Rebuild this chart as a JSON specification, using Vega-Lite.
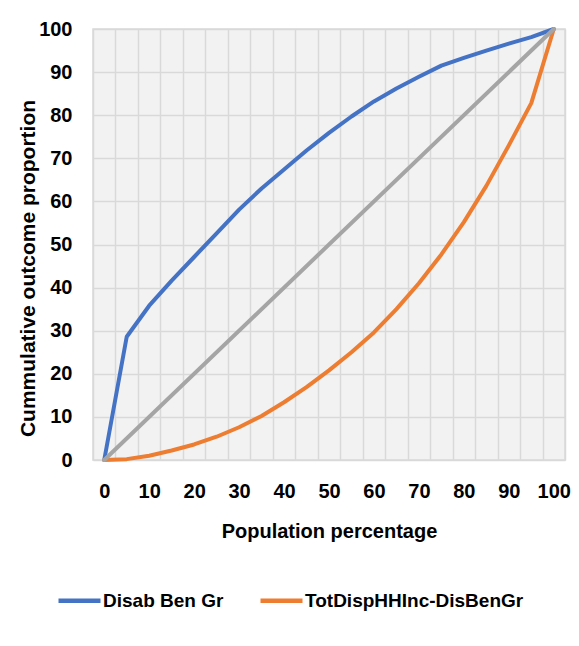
{
  "$schema": "https://vega.github.io/schema/vega-lite/v6.json",
  "autosize": "none",
  "width": 472,
  "height": 431,
  "padding": {"left": 93, "top": 29, "right": 14, "bottom": 186},
  "background": "white",
  "config": {
    "font": "Liberation Sans",
    "view": {"fill": "#f2f2f2", "stroke": "#d9d9d9", "strokeWidth": 1.5}
  },
  "datasets": {
    "curves": [
      {"pop": 0, "value": 0, "series": "Disab Ben Gr"},
      {"pop": 5, "value": 28.6, "series": "Disab Ben Gr"},
      {"pop": 10, "value": 35.8, "series": "Disab Ben Gr"},
      {"pop": 15, "value": 41.6, "series": "Disab Ben Gr"},
      {"pop": 20, "value": 47.1, "series": "Disab Ben Gr"},
      {"pop": 25, "value": 52.6, "series": "Disab Ben Gr"},
      {"pop": 30, "value": 58.1, "series": "Disab Ben Gr"},
      {"pop": 35, "value": 63.0, "series": "Disab Ben Gr"},
      {"pop": 40, "value": 67.4, "series": "Disab Ben Gr"},
      {"pop": 45, "value": 71.8, "series": "Disab Ben Gr"},
      {"pop": 50, "value": 75.9, "series": "Disab Ben Gr"},
      {"pop": 55, "value": 79.7, "series": "Disab Ben Gr"},
      {"pop": 60, "value": 83.2, "series": "Disab Ben Gr"},
      {"pop": 65, "value": 86.2, "series": "Disab Ben Gr"},
      {"pop": 70, "value": 88.9, "series": "Disab Ben Gr"},
      {"pop": 75, "value": 91.5, "series": "Disab Ben Gr"},
      {"pop": 80, "value": 93.3, "series": "Disab Ben Gr"},
      {"pop": 85, "value": 95.0, "series": "Disab Ben Gr"},
      {"pop": 90, "value": 96.6, "series": "Disab Ben Gr"},
      {"pop": 95, "value": 98.1, "series": "Disab Ben Gr"},
      {"pop": 100, "value": 100, "series": "Disab Ben Gr"},
      {"pop": 0, "value": 0, "series": "TotDispHHInc-DisBenGr"},
      {"pop": 5, "value": 0.2, "series": "TotDispHHInc-DisBenGr"},
      {"pop": 10, "value": 1.0, "series": "TotDispHHInc-DisBenGr"},
      {"pop": 15, "value": 2.2, "series": "TotDispHHInc-DisBenGr"},
      {"pop": 20, "value": 3.6, "series": "TotDispHHInc-DisBenGr"},
      {"pop": 25, "value": 5.4, "series": "TotDispHHInc-DisBenGr"},
      {"pop": 30, "value": 7.6, "series": "TotDispHHInc-DisBenGr"},
      {"pop": 35, "value": 10.2, "series": "TotDispHHInc-DisBenGr"},
      {"pop": 40, "value": 13.4, "series": "TotDispHHInc-DisBenGr"},
      {"pop": 45, "value": 16.9, "series": "TotDispHHInc-DisBenGr"},
      {"pop": 50, "value": 20.8, "series": "TotDispHHInc-DisBenGr"},
      {"pop": 55, "value": 25.0, "series": "TotDispHHInc-DisBenGr"},
      {"pop": 60, "value": 29.6, "series": "TotDispHHInc-DisBenGr"},
      {"pop": 65, "value": 35.0, "series": "TotDispHHInc-DisBenGr"},
      {"pop": 70, "value": 41.0, "series": "TotDispHHInc-DisBenGr"},
      {"pop": 75, "value": 47.7, "series": "TotDispHHInc-DisBenGr"},
      {"pop": 80, "value": 55.2, "series": "TotDispHHInc-DisBenGr"},
      {"pop": 85, "value": 63.6, "series": "TotDispHHInc-DisBenGr"},
      {"pop": 90, "value": 73.0, "series": "TotDispHHInc-DisBenGr"},
      {"pop": 95, "value": 82.8, "series": "TotDispHHInc-DisBenGr"},
      {"pop": 100, "value": 100, "series": "TotDispHHInc-DisBenGr"}
    ],
    "equality": [
      {"pop": 0, "value": 0},
      {"pop": 100, "value": 100}
    ]
  },
  "encoding": {
    "x": {
      "field": "pop",
      "type": "quantitative",
      "scale": {"domain": [-2.5, 102.5], "nice": false, "zero": false},
      "axis": {
        "title": "Population percentage",
        "values": [-2.5, 0, 2.5, 5, 7.5, 10, 12.5, 15, 17.5, 20, 22.5, 25, 27.5, 30, 32.5, 35, 37.5, 40, 42.5, 45, 47.5, 50, 52.5, 55, 57.5, 60, 62.5, 65, 67.5, 70, 72.5, 75, 77.5, 80, 82.5, 85, 87.5, 90, 92.5, 95, 97.5, 100, 102.5],
        "labelExpr": "datum.value % 10 === 0 ? datum.label : ''",
        "labelOverlap": false,
        "labelBound": false,
        "labelFlush": false,
        "grid": true,
        "gridColor": "#d9d9d9",
        "gridWidth": 1.5,
        "gridOpacity": {"condition": {"test": "datum.value % 5 !== 0", "value": 1}, "value": 0},
        "ticks": false,
        "domain": false,
        "labelFontSize": 20,
        "labelFontWeight": "bold",
        "labelColor": "#000000",
        "labelPadding": 21,
        "titleFontSize": 20,
        "titleFontWeight": "bold",
        "titleColor": "#000000",
        "titlePadding": 20
      }
    },
    "y": {
      "field": "value",
      "type": "quantitative",
      "scale": {"domain": [0, 100], "nice": false},
      "axis": {
        "title": "Cummulative outcome proportion",
        "values": [0, 10, 20, 30, 40, 50, 60, 70, 80, 90, 100],
        "grid": true,
        "gridColor": "#d9d9d9",
        "gridWidth": 1.5,
        "ticks": false,
        "domain": false,
        "labelFontSize": 20,
        "labelFontWeight": "bold",
        "labelColor": "#000000",
        "labelPadding": 21,
        "titleFontSize": 21,
        "titleFontWeight": "bold",
        "titleColor": "#000000",
        "titleX": -55,
        "titleY": 239
      }
    }
  },
  "layer": [
    {
      "data": {"name": "curves"},
      "mark": {"type": "line", "strokeWidth": 4, "strokeCap": "round", "strokeJoin": "round"},
      "encoding": {
        "color": {
          "field": "series",
          "type": "nominal",
          "scale": {"domain": ["Disab Ben Gr", "TotDispHHInc-DisBenGr"], "range": ["#4472c4", "#ed7d31"]},
          "legend": {
            "title": null,
            "orient": "none",
            "direction": "horizontal",
            "legendX": -37,
            "legendY": 548,
            "symbolType": "stroke",
            "symbolSize": 1764,
            "symbolStrokeWidth": 4.5,
            "labelFontSize": 19,
            "labelFontWeight": "bold",
            "labelColor": "#000000",
            "labelOffset": 0,
            "columnPadding": 27,
            "labelLimit": 400
          }
        }
      }
    },
    {
      "data": {"name": "equality"},
      "mark": {"type": "line", "strokeWidth": 4, "strokeCap": "round", "color": "#a5a5a5"},
      "encoding": {}
    }
  ]
}
